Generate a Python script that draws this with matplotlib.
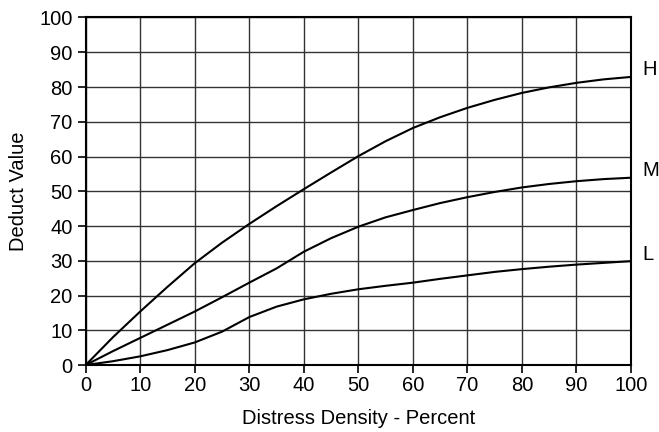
import matplotlib
matplotlib.use('Agg')
import matplotlib.pyplot as plt
import numpy as np

plt.rcParams['font.family'] = ['Liberation Sans', 'DejaVu Sans']

density = [0, 5, 10, 15, 20, 25, 30, 35, 40, 45, 50, 55, 60, 65, 70, 75, 80, 85, 90, 95, 100]
deduct_H = [0, 8, 15.4, 22.5, 29.3, 35.2, 40.6, 45.7, 50.6, 55.4, 60.1, 64.4, 68.2, 71.3, 74.0, 76.3, 78.3, 79.9, 81.2, 82.2, 82.9]
deduct_M = [0, 4.0, 7.8, 11.6, 15.4, 19.5, 23.7, 27.8, 32.6, 36.5, 39.8, 42.5, 44.6, 46.6, 48.3, 49.8, 51.1, 52.1, 52.9, 53.5, 53.9]
deduct_L = [0, 1.1, 2.5, 4.3, 6.5, 9.6, 13.8, 16.8, 18.9, 20.5, 21.8, 22.8, 23.7, 24.8, 25.8, 26.8, 27.6, 28.3, 28.9, 29.4, 29.9]
labels = ['H', 'M', 'L']

fig = plt.figure(figsize=(6.59, 4.32), dpi=100)
ax = fig.add_axes([0.130, 0.155, 0.8275, 0.8045])

for y, lab in zip([deduct_H, deduct_M, deduct_L], labels):
    ax.plot(density, y, color='black', linewidth=1.5, solid_capstyle='round')
    ax.text(102, y[-1] + 2, lab, fontsize=14.5, ha='left', va='center')

ax.set_xlim([0, 100])
ax.set_ylim([0, 100])
plt.xticks(np.arange(0, 101, 10))
plt.yticks(np.arange(0, 101, 10))
ax.tick_params(labelsize=14.5, length=5.5, width=1.2, direction='out')
ax.tick_params(axis='x', pad=2.5)
ax.tick_params(axis='y', pad=4)
ax.grid(True, color='#333333', linewidth=1.0)
for s in ax.spines.values():
    s.set_linewidth(1.5)

ax.set_xlabel('Distress Density - Percent', fontsize=14.5, labelpad=10)
ax.set_ylabel('Deduct Value', fontsize=14.5, labelpad=8)

plt.savefig('out.png', dpi=100)
